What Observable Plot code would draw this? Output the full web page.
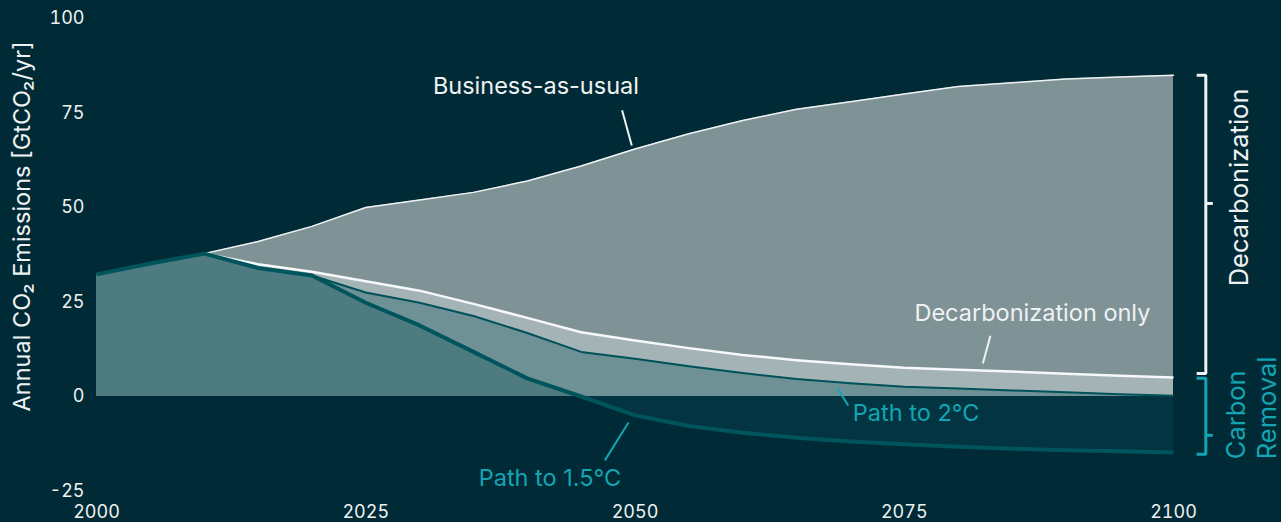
<!DOCTYPE html>
<html>
<head>
<meta charset="utf-8">
<script src="https://cdn.jsdelivr.net/npm/d3@7"></script>
<script src="https://cdn.jsdelivr.net/npm/@observablehq/plot@0.6"></script>
<style>
  html, body { margin: 0; padding: 0; background: #002a35; }
  #chart { width: 1281px; height: 522px; }
</style>
</head>
<body>
<div id="chart"></div>
<script>
// ---- Data ----
const years      = [2000, 2005, 2010, 2015, 2020, 2025, 2030, 2035, 2040, 2045, 2050, 2055, 2060, 2065, 2070, 2075, 2080, 2085, 2090, 2095, 2100];
const bau        = [32.3, 35.2, 37.8, 41.0, 45.0, 50.0, 52.0, 54.0, 57.0, 61.0, 65.5, 69.5, 73.0, 76.0, 78.0, 80.0, 82.0, 83.0, 84.0, 84.5, 85.0];
const decarbOnly = [32.3, 35.2, 37.8, 35.0, 33.0, 30.5, 28.0, 24.5, 20.8, 17.0, 14.8, 12.8, 11.0, 9.6, 8.5, 7.6, 7.1, 6.6, 6.0, 5.5, 5.0];
const path2C     = [32.3, 35.2, 37.8, 34.0, 32.0, 27.5, 24.8, 21.3, 16.8, 11.8, 10.0, 8.0, 6.2, 4.6, 3.5, 2.6, 2.1, 1.6, 1.1, 0.6, 0.2];
const path15C    = [32.3, 35.2, 37.8, 34.0, 32.0, 24.8, 18.8, 11.8, 4.8, 0.0, -5.0, -7.8, -9.6, -10.9, -11.9, -12.6, -13.3, -13.8, -14.2, -14.5, -14.8];

const xTicks = [2000, 2025, 2050, 2075, 2100];
const yTicks = [-25, 0, 25, 50, 75, 100];

const yTitle = "Annual CO₂ Emissions [GtCO₂/yr]";
const labelTexts  = ["Business-as-usual", "Decarbonization only", "Path to 2°C", "Path to 1.5°C"];
const labelYears  = [2040.8, 2086.9, 2076.1, 2042.1];
const labelValues = [82, 22, -4.5, -21.6];
const leaderFromYear  = [2048.8, 2083.0, 2068.8, 2049.4];
const leaderFromValue = [75.7, 16.1, 2.1, -6.9];
const leaderToYear    = [2049.7, 2082.3, 2069.8, 2047.2];
const leaderToValue   = [66.4, 8.7, -2.4, -16.9];
const bracketTexts = ["Decarbonization", "Carbon", "Removal"];

// ---- Styles ----
const BG = "#002a35";
const WHITE = "#eef2f3";
const CYAN = "#13a5b4";
const FONT = "Inter, Roboto, sans-serif";
const labelColors = [WHITE, WHITE, CYAN, CYAN];

// ---- Tables built from the arrays ----
const rows = years.map((year, i) => ({
  year, bau: bau[i], decarb: decarbOnly[i], p2: path2C[i], p15: path15C[i]
}));
const labels = labelTexts.map((text, i) => ({text, year: labelYears[i], value: labelValues[i], color: labelColors[i]}));
const leaders = labelTexts.map((t, i) => ({
  x1: leaderFromYear[i], y1: leaderFromValue[i], x2: leaderToYear[i], y2: leaderToValue[i], color: labelColors[i]
}));

const last = rows[rows.length - 1];
const bx = 2100 + 3.0;   // bracket spine (just right of the plot)
const bl = bx - 0.85;    // bracket hooks
const bt = bx + 0.65;    // middle tick
const decTop = last.bau, decBot = last.decarb + 1.1;
const crTop = last.decarb - 0.2, crBot = last.p15 - 0.5;
const decBracket = [{x: bl, y: decTop}, {x: bx, y: decTop}, {x: bx, y: decBot}, {x: bl, y: decBot}];
const crBracket  = [{x: bl, y: crTop}, {x: bx, y: crTop}, {x: bx, y: crBot}, {x: bl, y: crBot}];
const decMid = decTop - (decTop - decBot) * 0.43;
const crMid = crTop - (crTop - crBot) * 0.75;

const chart = Plot.plot({
  width: 1281,
  height: 522,
  marginLeft: 96,
  marginRight: 108,
  marginTop: 18,
  marginBottom: 31.5,
  x: {domain: [2000, 2100]},
  y: {domain: [-25, 100]},
  style: {background: BG, color: WHITE, fontFamily: FONT, fontSize: "18px", overflow: "visible"},
  marks: [
    Plot.areaY(rows, {x: "year", y1: 0, y2: "bau", fill: "#7f9397"}),
    Plot.areaY(rows, {x: "year", y1: 0, y2: "decarb", fill: "#a4b3b6"}),
    Plot.areaY(rows, {x: "year", y1: 0, y2: "p2", fill: "#6d9194"}),
    Plot.areaY(rows, {x: "year", y1: 0, y2: d => Math.max(0, d.p15), fill: "#4e7b80"}),
    Plot.areaY(rows, {x: "year", y1: 0, y2: d => Math.min(0, d.p15), fill: "#023541"}),
    Plot.line(rows.filter(d => d.year >= 2010), {x: "year", y: "bau", stroke: WHITE, strokeWidth: 1.5}),
    Plot.line(rows.filter(d => d.year >= 2010), {x: "year", y: "decarb", stroke: "#f6f8f9", strokeWidth: 2.5, strokeLinecap: "butt"}),
    Plot.line(rows.filter(d => d.year >= 2020), {x: "year", y: "p2", stroke: "#00525a", strokeWidth: 2, strokeLinecap: "butt"}),
    Plot.line(rows, {x: "year", y: "p15", stroke: "#00545c", strokeWidth: 4, strokeLinecap: "butt"}),

    // leader lines and labels
    Plot.link(leaders, {x1: "x1", y1: "y1", x2: "x2", y2: "y2", stroke: "color", strokeWidth: 2}),
    Plot.text(labels, {x: "year", y: "value", text: "text", fill: "color", fontSize: 23.5, textAnchor: "middle", lineAnchor: "middle"}),

    // brackets
    Plot.line(decBracket, {x: "x", y: "y", stroke: WHITE, strokeWidth: 3, strokeLinejoin: "miter", strokeLinecap: "butt"}),
    Plot.link([0], {x1: [bx], x2: [bt], y1: [decMid], y2: [decMid], stroke: WHITE, strokeWidth: 3}),
    Plot.line(crBracket, {x: "x", y: "y", stroke: CYAN, strokeWidth: 3, strokeLinejoin: "miter", strokeLinecap: "butt"}),
    Plot.link([0], {x1: [bx], x2: [bt], y1: [crMid], y2: [crMid], stroke: CYAN, strokeWidth: 3}),
    Plot.text([bracketTexts[0]], {x: [2106.2], y: [55.3], text: d => d, rotate: -90, fill: WHITE, fontSize: 25.5, textAnchor: "middle", lineAnchor: "middle"}),
    Plot.text([bracketTexts[1], bracketTexts[2]], {x: [2105.9, 2108.8], y: [-16.6, -16.6], text: d => d, rotate: -90, fill: CYAN, fontSize: 25.5, textAnchor: "start", lineAnchor: "middle"}),

    // y title
    Plot.text([yTitle], {x: [2000], y: [45], text: d => d, dx: -74, rotate: -90, fill: WHITE, fontSize: 23.5, textAnchor: "middle", lineAnchor: "middle"}),

    Plot.axisX({ticks: xTicks, tickSize: 0, tickPadding: 14, tickFormat: d => String(d), label: null, fontSize: 18}),
    Plot.axisY({ticks: yTicks, tickSize: 0, tickPadding: 12, tickFormat: d => String(d), label: null, fontSize: 18})
  ]
});
document.getElementById("chart").append(chart);
</script>
</body>
</html>
